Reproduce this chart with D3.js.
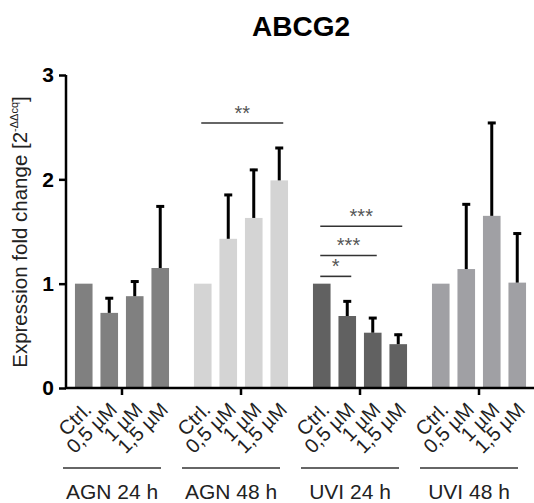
<!DOCTYPE html>
<html>
<head>
<meta charset="utf-8">
<script src="https://cdn.jsdelivr.net/npm/d3@7/dist/d3.min.js"></script>
<style>
  html, body { margin: 0; padding: 0; background: #fff; }
  svg { display: block; font-family: "Liberation Sans", Arial, sans-serif; }
</style>
</head>
<body>
<svg id="chart" width="534" height="503"></svg>
<script>
// ABCG2 expression, mean + SD per treatment and concentration
const groups = ["AGN 24 h", "AGN 48 h", "UVI 24 h", "UVI 48 h"];
const conditions = ["Ctrl.", "0,5 µM", "1 µM", "1,5 µM"];
const groupColors = ["#808080", "#d4d4d4", "#616161", "#a0a0a4"];

const agn24Mean = [1.00, 0.72, 0.88, 1.15];
const agn24Sd   = [0.00, 0.15, 0.15, 0.60];
const agn48Mean = [1.00, 1.43, 1.63, 1.99];
const agn48Sd   = [0.00, 0.43, 0.47, 0.32];
const uvi24Mean = [1.00, 0.69, 0.53, 0.42];
const uvi24Sd   = [0.00, 0.15, 0.15, 0.10];
const uvi48Mean = [1.00, 1.14, 1.65, 1.01];
const uvi48Sd   = [0.00, 0.63, 0.90, 0.48];

const yTicks = [0, 1, 2, 3];

// significance brackets: group, compared conditions, bracket height, mark
const sigGroup = ["AGN 48 h", "UVI 24 h", "UVI 24 h", "UVI 24 h"];
const sigFrom  = ["Ctrl.", "Ctrl.", "Ctrl.", "Ctrl."];
const sigTo    = ["1,5 µM", "1,5 µM", "1 µM", "0,5 µM"];
const sigLevel = [2.54, 1.55, 1.27, 1.07];
const sigMark  = ["**", "***", "***", "*"];

const means = [agn24Mean, agn48Mean, uvi24Mean, uvi48Mean];
const sds = [agn24Sd, agn48Sd, uvi24Sd, uvi48Sd];
const rows = [];
groups.forEach((g, gi) => conditions.forEach((c, ci) => {
  rows.push({ group: g, cond: c, mean: means[gi][ci], sd: sds[gi][ci], color: groupColors[gi] });
}));

const svg = d3.select("#chart");

const y = d3.scaleLinear().domain([0, 3]).range([388, 75]);
const x0 = d3.scaleBand().domain(groups).range([71, 530]).paddingInner(0.143).paddingOuter(0);
const x1 = d3.scaleBand().domain(conditions).range([0, x0.bandwidth()]).paddingInner(0.31).paddingOuter(0.155);
const cx = (g, c) => x0(g) + x1(c) + x1.bandwidth() / 2;

// title
svg.append("text")
  .attr("x", 301).attr("y", 36)
  .attr("text-anchor", "middle")
  .attr("font-size", 28).attr("font-weight", "bold")
  .text("ABCG2");

// bars
svg.append("g").selectAll("rect").data(rows).join("rect")
  .attr("x", d => x0(d.group) + x1(d.cond))
  .attr("width", x1.bandwidth())
  .attr("y", d => y(d.mean))
  .attr("height", d => y(0) - y(d.mean))
  .attr("fill", d => d.color);

// upper error bars
const err = svg.append("g").selectAll("g").data(rows.filter(d => d.sd > 0)).join("g");
err.append("line")
  .attr("x1", d => cx(d.group, d.cond)).attr("x2", d => cx(d.group, d.cond))
  .attr("y1", d => y(d.mean)).attr("y2", d => y(d.mean + d.sd))
  .attr("stroke", "#000").attr("stroke-width", 3);
err.append("line")
  .attr("x1", d => cx(d.group, d.cond) - 4).attr("x2", d => cx(d.group, d.cond) + 4)
  .attr("y1", d => y(d.mean + d.sd) + 1).attr("y2", d => y(d.mean + d.sd) + 1)
  .attr("stroke", "#000").attr("stroke-width", 3);

// y axis
const yAxis = svg.append("g")
  .attr("transform", "translate(66,0)")
  .call(d3.axisLeft(y).tickValues(yTicks).tickFormat(d3.format("d")).tickSize(7).tickPadding(5));
yAxis.select(".domain").attr("stroke", "#000").attr("stroke-width", 2.5)
  .attr("d", `M0,${y(3)}V${y(0)}`);
yAxis.selectAll(".tick line").attr("stroke-width", 2.5);
yAxis.selectAll(".tick text")
  .attr("font-size", 21).attr("font-weight", "bold")
  .attr("font-family", "Liberation Sans, Arial, sans-serif").attr("fill", "#000");

// x axis
const xAxis = svg.append("g")
  .attr("transform", `translate(0,${y(0)})`)
  .call(d3.axisBottom(x0).tickSize(7).tickFormat(""));
xAxis.select(".domain").attr("stroke", "#000").attr("stroke-width", 2.5)
  .attr("d", `M65,0H534`);
xAxis.selectAll(".tick line").attr("stroke-width", 2.5);

// rotated condition labels
svg.append("g").selectAll("text").data(rows).join("text")
  .attr("transform", d => `translate(${cx(d.group, d.cond) + 9},411) rotate(-45)`)
  .attr("text-anchor", "end")
  .attr("font-size", 20)
  .attr("fill", "#222")
  .text(d => d.cond);

// group underlines and names
const gl = svg.append("g").selectAll("g").data(groups).join("g")
  .attr("transform", g => `translate(${x0(g) + x0.bandwidth() / 2 - 10},0)`);
gl.append("line")
  .attr("x1", -49).attr("x2", 49).attr("y1", 468).attr("y2", 468)
  .attr("stroke", "#333").attr("stroke-width", 1.5);
gl.append("text")
  .attr("x", 0).attr("y", 499)
  .attr("text-anchor", "middle")
  .attr("font-size", 21)
  .attr("fill", "#222")
  .text(g => g);

// y axis title with superscript
const yt = svg.append("text")
  .attr("transform", `translate(27,${232}) rotate(-90)`)
  .attr("text-anchor", "middle")
  .attr("font-size", 20.5)
  .attr("fill", "#222");
yt.append("tspan").text("Expression fold change [2");
yt.append("tspan").attr("font-size", 11).attr("dy", -9).text("-ΔΔcq");
yt.append("tspan").attr("dy", 9).text("]");

// significance brackets
sigMark.forEach((m, i) => {
  const xa = cx(sigGroup[i], sigFrom[i]) - 1.5;
  const xb = cx(sigGroup[i], sigTo[i]) + 4;
  const yl = y(sigLevel[i]);
  svg.append("line")
    .attr("x1", xa).attr("x2", xb).attr("y1", yl).attr("y2", yl)
    .attr("stroke", "#333").attr("stroke-width", 1.6);
  svg.append("text")
    .attr("x", (xa + xb) / 2).attr("y", yl - 3)
    .attr("text-anchor", "middle")
    .attr("font-size", 20)
    .attr("fill", "#555")
    .text(m);
});
</script>
</body>
</html>
